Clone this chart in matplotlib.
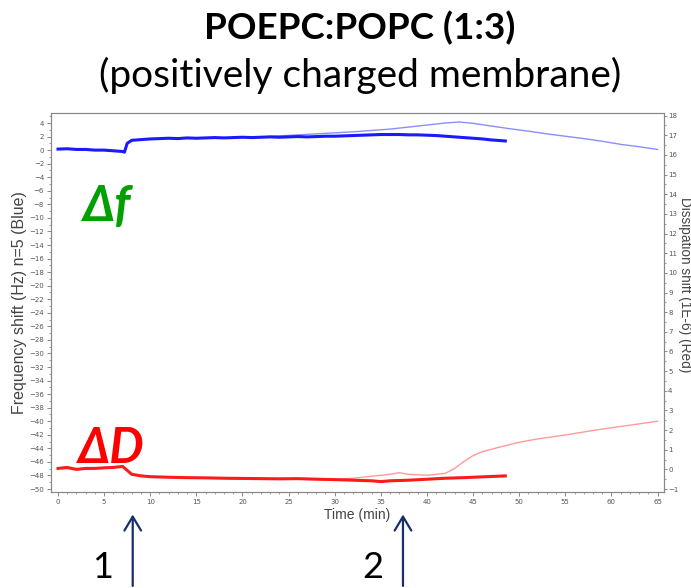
"""
QCM-D trace for a POEPC:POPC (1:3) bilayer: frequency and dissipation shifts
"""

import matplotlib.pyplot as plt
from matplotlib.ticker import MultipleLocator

# Frequency shift, overtone n=5 (Hz), measured trace
t_freq = [0, 1, 2, 3, 4, 5, 6, 7, 7.2, 7.5, 8, 9, 10, 11, 12, 13, 14, 15, 16, 17,
          18, 19, 20, 21, 22, 23, 24, 25, 26, 27, 28, 29, 30, 31, 32, 33, 34, 35,
          36, 37, 38, 39, 40, 41, 42, 43, 44, 45, 46, 47, 48, 48.5]
freq = [0.15, 0.2, 0.1, 0.1, 0.0, 0.0, -0.1, -0.2, -0.3, 1.0, 1.45, 1.55, 1.65, 1.7, 1.75,
        1.7, 1.8, 1.75, 1.8, 1.85, 1.8, 1.85, 1.9, 1.85, 1.9, 1.95, 1.9, 1.95, 2.0, 1.95,
        2.0, 2.05, 2.05, 2.1, 2.15, 2.2, 2.25, 2.3, 2.3, 2.3, 2.25, 2.25, 2.2, 2.15, 2.05,
        1.95, 1.85, 1.75, 1.65, 1.5, 1.4, 1.35]

# Frequency shift, second trace (continues to the end of the run)
t_freq_b = [0, 2, 4, 6, 7.2, 7.5, 8, 10, 12, 14, 16, 18, 20, 22, 24, 26, 28, 30, 32, 34,
            36, 38, 40, 42, 43.5, 45, 47, 49, 51, 53, 55, 57, 59, 61, 63, 65]
freq_b = [0.15, 0.1, 0.0, -0.1, -0.3, 1.0, 1.45, 1.65, 1.75, 1.8, 1.8, 1.8, 1.9, 1.95,
          2.1, 2.25, 2.4, 2.55, 2.7, 2.9, 3.1, 3.4, 3.7, 4.0, 4.15, 3.95, 3.55, 3.15, 2.8,
          2.4, 2.05, 1.7, 1.3, 0.85, 0.5, 0.1]

# Dissipation shift (1E-6), measured trace
t_diss = [0, 1, 2, 3, 4, 5, 6, 7, 7.5, 8, 9, 10, 12, 14, 16, 18, 20, 22, 24, 26, 28,
          30, 32, 34, 35, 36, 38, 40, 42, 44, 46, 48.5]
diss = [0.05, 0.1, 0.0, 0.05, 0.05, 0.08, 0.1, 0.15, -0.05, -0.25, -0.33, -0.37, -0.4,
        -0.42, -0.43, -0.45, -0.46, -0.47, -0.48, -0.47, -0.5, -0.52, -0.55, -0.58, -0.62,
        -0.58, -0.55, -0.5, -0.45, -0.42, -0.38, -0.33]

# Dissipation shift, second trace
t_diss_b = [0, 2, 4, 6, 7, 7.5, 8, 10, 14, 18, 22, 26, 30, 32, 34, 36, 37, 38, 40, 42,
            43, 44, 45, 46, 48, 50, 52, 55, 58, 60, 62, 65]
diss_b = [0.05, 0.0, 0.05, 0.1, 0.15, -0.05, -0.25, -0.37, -0.42, -0.45, -0.47, -0.47,
          -0.5, -0.45, -0.35, -0.25, -0.17, -0.25, -0.3, -0.2, 0.05, 0.4, 0.7, 0.9, 1.15,
          1.38, 1.55, 1.75, 1.98, 2.12, 2.25, 2.45]

# Injection times (min)
injections = [8.1, 37.4]
injection_labels = ['1', '2']

fig = plt.figure(figsize=(6.91, 5.88), dpi=100)
ax = fig.add_axes([51 / 691, 96 / 588, 613 / 691, 379.3 / 588])
ax2 = ax.twinx()

ax.plot(t_freq_b, freq_b, color='#8c8cff', lw=1.0)
ax.plot(t_freq, freq, color='#1a1aff', lw=2.2)
ax2.plot(t_diss_b, diss_b, color='#ff9a9a', lw=1.0)
ax2.plot(t_diss, diss, color='#ff1a1a', lw=2.2)

ax.set_xlim(-0.76, 65.7)
ax.set_ylim(-50.44, 5.52)
ax2.set_ylim(-1.15, 18.15)

ax.xaxis.set_major_locator(MultipleLocator(5))
ax.xaxis.set_minor_locator(MultipleLocator(1))
ax.yaxis.set_major_locator(MultipleLocator(2))
ax.yaxis.set_minor_locator(MultipleLocator(1))
ax2.yaxis.set_major_locator(MultipleLocator(1))
ax2.yaxis.set_minor_locator(MultipleLocator(0.5))

for a in (ax, ax2):
    a.tick_params(which='major', length=3, width=0.6, colors='#777777',
                  labelsize=5, labelcolor='#555555', pad=2)
    a.tick_params(which='minor', length=1.5, width=0.5, colors='#777777')
    for s in a.spines.values():
        s.set_color('#888888')
        s.set_linewidth(0.8)
ax2.tick_params(which='major', pad=0.5, length=2.5)

ax.set_xlabel('Time (min)', fontsize=10, color='#444444', labelpad=2,
              family=['Liberation Sans Narrow', 'Liberation Sans'])
ax.set_ylabel('Frequency shift (Hz) n=5 (Blue)', fontsize=11.5, color='#444444',
              family='Liberation Sans')
ax.yaxis.set_label_coords(-0.039, 0.5)
# right-hand axis title placed by its rotated box so it stays inside the figure
fig.text(684.5 / 691, 1 - 285 / 588, 'Dissipation shift (1E-6) (Red)', fontsize=9.8,
         color='#444444', family='Liberation Sans', rotation=-90,
         ha='center', va='center')

# Series markers inside the plot
ax.text(0.05, 0.754, 'Δf', transform=ax.transAxes, fontsize=35, color='#00a000',
        fontweight='bold', fontstyle='italic', va='center',
        family=['Lato', 'DejaVu Sans'])
ax.text(0.043, 0.116, 'ΔD', transform=ax.transAxes, fontsize=35, color='#ff0000',
        fontweight='bold', fontstyle='italic', va='center',
        family=['Lato', 'DejaVu Sans'])

# Titles
fig.text(360 / 691, 1 - 28 / 588, 'POEPC:POPC (1:3)', ha='center', va='center',
         fontsize=26.5, fontweight='bold', family='Lato')
fig.text(360 / 691, 1 - 75 / 588, '(positively charged membrane)', ha='center',
         va='center', fontsize=28, family='Lato')

# Injection arrows below the time axis
for tx, lab in zip(injections, injection_labels):
    ax.annotate('', xy=(tx, -0.052), xytext=(tx, -0.255),
                xycoords=('data', 'axes fraction'),
                textcoords=('data', 'axes fraction'), annotation_clip=False,
                arrowprops=dict(arrowstyle='->,head_length=1.0,head_width=0.6',
                                lw=1.6, color='#17306a'))
    ax.annotate(lab, xy=(tx, -0.198), xycoords=('data', 'axes fraction'),
                xytext=(-22, 0), textcoords='offset points', ha='center', va='center',
                fontsize=26, family='Lato', annotation_clip=False)

fig.savefig('out.png', dpi=100)
